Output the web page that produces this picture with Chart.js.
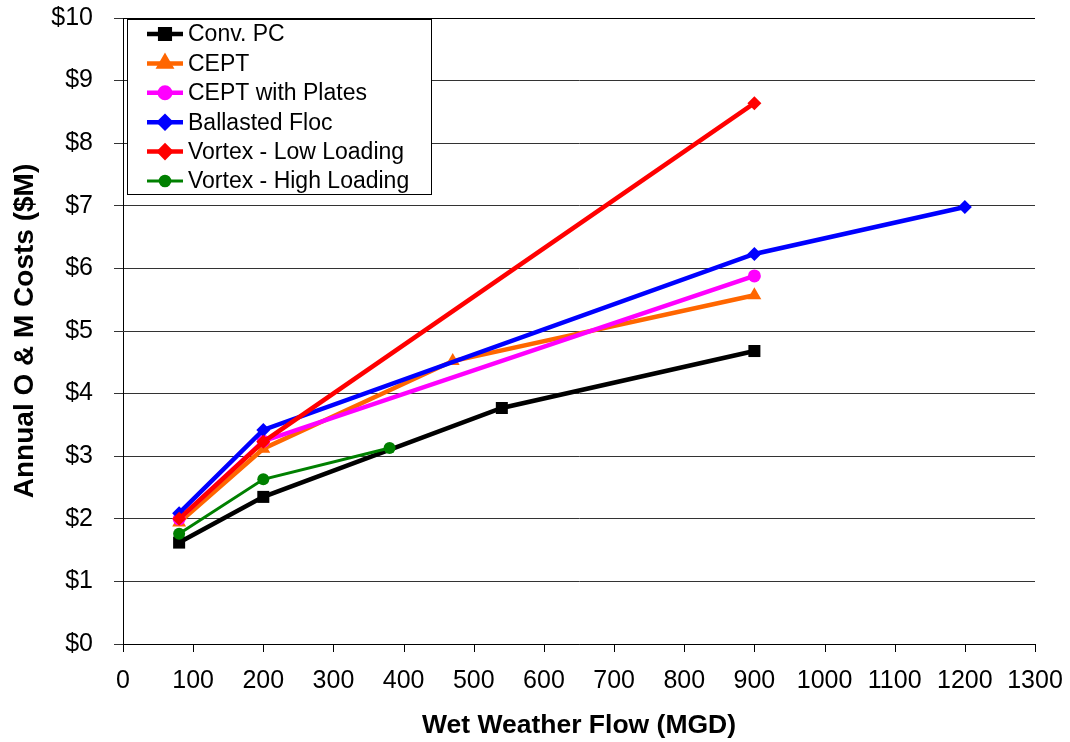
<!DOCTYPE html>
<html>
<head>
<meta charset="utf-8">
<script src="https://cdn.jsdelivr.net/npm/chart.js@4"></script>
<style>
  html, body { margin: 0; padding: 0; background: #fff; }
  #wrap { width: 1070px; height: 742px; }
</style>
</head>
<body>
<div id="wrap"><canvas id="costChart" width="1070" height="742"></canvas></div>
<script>
// series data (flow in MGD, cost in $M)
const seriesNames = ['Conv. PC', 'CEPT', 'CEPT with Plates', 'Ballasted Floc', 'Vortex - Low Loading', 'Vortex - High Loading'];

const convPcFlow = [80, 200, 540, 900];
const convPcCost = [1.62, 2.35, 3.77, 4.68];

const ceptFlow = [80, 200, 470, 900];
const ceptCost = [1.94, 3.12, 4.52, 5.57];

const platesFlow = [80, 200, 900];
const platesCost = [2.0, 3.24, 5.88];

const ballastedFlow = [80, 200, 900, 1200];
const ballastedCost = [2.09, 3.42, 6.23, 6.98];

const vortexLowFlow = [80, 200, 900];
const vortexLowCost = [2.0, 3.23, 8.64];

const vortexHighFlow = [80, 200, 380];
const vortexHighCost = [1.76, 2.63, 3.13];

const xTicks = [0, 100, 200, 300, 400, 500, 600, 700, 800, 900, 1000, 1100, 1200, 1300];
const yTicks = [0, 1, 2, 3, 4, 5, 6, 7, 8, 9, 10];

const FONT = 'Arial, "Liberation Sans", sans-serif';

function pts(xs, ys) {
  return xs.map((x, i) => ({ x, y: ys[i] }));
}

const styles = [
  { color: '#000000', marker: 'rect', radius: 8.5, width: 4.5 },
  { color: '#ff6600', marker: 'triangle', radius: 8, width: 4.5 },
  { color: '#ff00ff', marker: 'circle', radius: 6.5, width: 4.5 },
  { color: '#0000ff', marker: 'rectRot', radius: 7, width: 4.5 },
  { color: '#ff0000', marker: 'rectRot', radius: 7, width: 4.5 },
  { color: '#008000', marker: 'circle', radius: 6, width: 3 }
];

const seriesData = [
  pts(convPcFlow, convPcCost),
  pts(ceptFlow, ceptCost),
  pts(platesFlow, platesCost),
  pts(ballastedFlow, ballastedCost),
  pts(vortexLowFlow, vortexLowCost),
  pts(vortexHighFlow, vortexHighCost)
];

// legend drawn inside the plot area, like the excel original
const boxLegend = {
  id: 'boxLegend',
  afterDatasetsDraw(chart) {
    const ctx = chart.ctx;
    const area = chart.chartArea;
    const x0 = area.left + 4, y0 = area.top + 1;
    const w = 304, h = 175, row = 29.4;
    ctx.save();
    ctx.fillStyle = '#fff';
    ctx.fillRect(x0, y0, w, h);
    ctx.strokeStyle = '#000';
    ctx.lineWidth = 1;
    ctx.strokeRect(x0 + 0.5, y0 + 0.5, w, h);
    ctx.font = '23px ' + FONT;
    ctx.textBaseline = 'middle';
    chart.data.datasets.forEach((ds, i) => {
      const cy = y0 + 15 + i * row;
      const st = styles[i];
      ctx.strokeStyle = st.color;
      ctx.lineWidth = st.width;
      ctx.beginPath();
      ctx.moveTo(x0 + 20, cy);
      ctx.lineTo(x0 + 56, cy);
      ctx.stroke();
      Chart.helpers.drawPoint(ctx, {
        pointStyle: st.marker, radius: st.radius * 0.8, rotation: 0,
        borderWidth: 1
      }, x0 + 38, cy);
      ctx.fillStyle = st.color;
      ctx.fill();
      ctx.fillStyle = '#000';
      ctx.fillText(ds.label, x0 + 61, cy + 1);
    });
    ctx.restore();
  }
};

new Chart(document.getElementById('costChart'), {
  type: 'line',
  data: {
    datasets: seriesNames.map((name, i) => ({
      label: name,
      data: seriesData[i],
      borderColor: styles[i].color,
      backgroundColor: styles[i].color,
      borderWidth: styles[i].width,
      pointStyle: styles[i].marker,
      pointRadius: styles[i].radius,
      pointBorderWidth: 0,
      pointBackgroundColor: styles[i].color,
      fill: false,
      tension: 0,
      order: seriesNames.length - i
    }))
  },
  options: {
    responsive: false,
    animation: false,
    layout: { padding: { top: 18, right: 35, left: 0, bottom: 0 } },
    plugins: {
      legend: { display: false },
      tooltip: { enabled: false }
    },
    scales: {
      x: {
        type: 'linear',
        min: 0,
        max: 1300,
        afterBuildTicks: s => { s.ticks = xTicks.map(v => ({ value: v })); },
        afterFit: s => { s.height = 98; s.paddingLeft = 0; s.paddingRight = 0; },
        grid: { display: false, drawTicks: true, tickLength: 8, color: '#000' },
        border: { color: '#000', width: 1 },
        ticks: { color: '#000', font: { family: FONT, size: 25 }, padding: 14, maxRotation: 0, callback: v => String(v) },
        title: {
          display: true, text: 'Wet Weather Flow (MGD)', color: '#000',
          font: { family: FONT, size: 26.5, weight: 'bold' }, padding: { top: 0, bottom: 0 }
        }
      },
      y: {
        min: 0,
        max: 10,
        afterBuildTicks: s => { s.ticks = yTicks.map(v => ({ value: v })); },
        afterFit: s => { s.width = 123; s.paddingTop = 0; s.paddingBottom = 0; },
        grid: { color: '#333', lineWidth: 1, tickLength: 9, drawOnChartArea: true },
        border: { color: '#000', width: 1 },
        ticks: { color: '#000', font: { family: FONT, size: 25 }, padding: 21, callback: v => '$' + v },
        title: {
          display: true, text: 'Annual O & M Costs ($M)', color: '#000',
          font: { family: FONT, size: 28, weight: 'bold' }, padding: { top: 8, bottom: 0 }
        }
      }
    }
  },
  plugins: [boxLegend, {
    id: 'xTickMarks',
    afterDraw(chart) {
      const ctx = chart.ctx, xs = chart.scales.x, a = chart.chartArea;
      ctx.save();
      ctx.strokeStyle = '#000';
      ctx.lineWidth = 1;
      ctx.beginPath();
      xTicks.forEach(v => {
        const px = Math.round(xs.getPixelForValue(v)) + 0.5;
        ctx.moveTo(px, a.bottom);
        ctx.lineTo(px, a.bottom + 8);
      });
      ctx.moveTo(a.left, a.top + 0.5);
      ctx.lineTo(a.right, a.top + 0.5);
      ctx.stroke();
      ctx.restore();
    }
  }]
});
</script>
</body>
</html>
